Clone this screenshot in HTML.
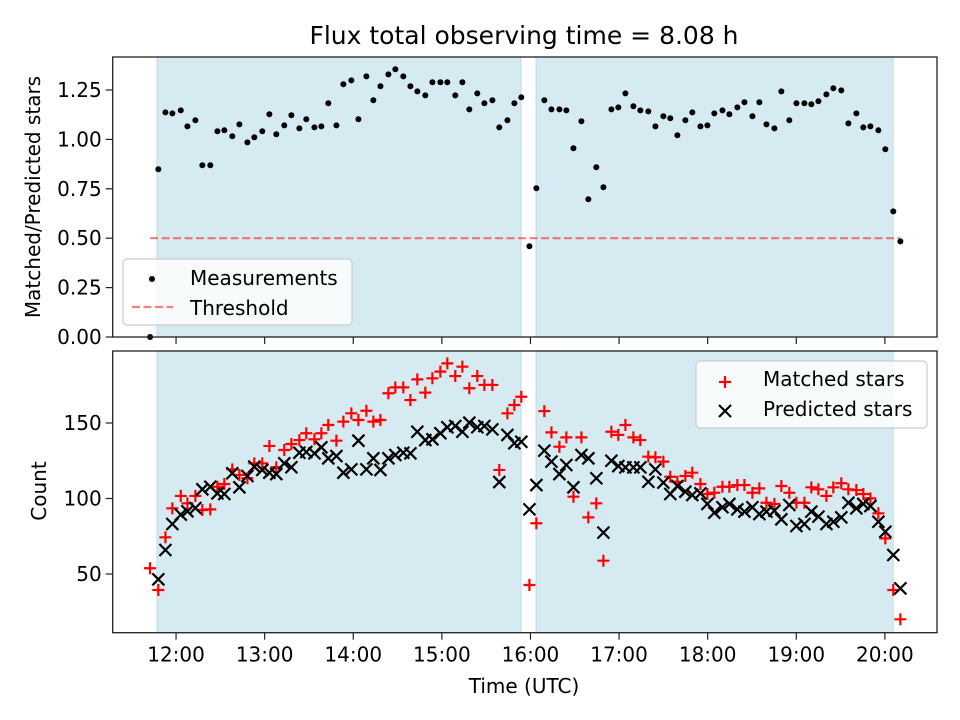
<!DOCTYPE html>
<html><head><meta charset="utf-8"><style>
html,body{margin:0;padding:0;background:#fff}
svg{display:block;font-family:"DejaVu Sans","Liberation Sans",sans-serif}
</style></head><body>
<svg id="chart" width="960" height="720" viewBox="0 0 960 720" xmlns="http://www.w3.org/2000/svg">
<rect x="0" y="0" width="960" height="720" fill="#fff"/>
<text x="524" y="44" font-size="25" text-anchor="middle">Flux total observing time = 8.08 h</text>
<g id="topPanel"></g>
<g id="botPanel"></g>
<text transform="translate(40,197) rotate(-90)" font-size="20" text-anchor="middle">Matched/Predicted stars</text>
<text transform="translate(46,491) rotate(-90)" font-size="20" text-anchor="middle">Count</text>
<text x="524" y="693" font-size="20" text-anchor="middle">Time (UTC)</text>
</svg>
<script>
const times = [-17.6,-12.0,-7.2,-2.5,3.2,7.7,13.1,17.8,23.2,28.0,32.7,38.1,42.9,48.3,53.0,58.4,63.2,67.9,73.3,78.1,83.5,88.2,93.7,98.4,103.1,108.6,113.3,118.7,123.5,128.9,133.6,138.4,143.8,148.5,153.9,158.7,163.4,168.8,173.6,179.0,183.7,189.1,193.9,198.6,204.0,208.8,214.2,218.9,224.4,229.1,233.8,239.3,244.0,
249.4,254.2,259.6,264.3,269.1,274.5,279.2,284.6,289.4,294.8,299.5,304.3,309.7,314.4,319.8,324.6,330.0,334.7,339.5,344.9,349.6,355.1,359.8,364.5,370.0,374.7,380.1,384.9,390.3,395.0,399.8,405.2,409.9,415.3,420.1,425.5,430.2,435.0,440.4,445.1,450.5,455.3,460.7,465.4,470.2,475.6,480.3,485.7,490.5];
const ratio = [0,0.849,1.137,1.132,1.147,1.066,1.097,0.869,0.869,1.041,1.046,1.016,1.076,0.985,1.011,1.041,1.127,1.026,1.071,1.122,1.056,1.102,1.061,1.066,1.183,1.071,1.279,1.299,1.102,1.319,1.198,1.269,1.329,1.355,1.319,1.269,1.243,1.223,1.289,1.289,1.289,1.223,1.289,1.152,1.233,1.183,1.198,1.061,1.097,1.183,1.213,0.459,0.753,
1.198,1.152,1.152,1.147,0.955,1.092,0.697,0.859,0.758,1.152,1.162,1.233,1.168,1.147,1.142,1.066,1.117,1.107,1.021,1.097,1.137,1.066,1.071,1.132,1.147,1.127,1.162,1.188,1.117,1.188,1.076,1.056,1.243,1.097,1.183,1.183,1.178,1.193,1.228,1.259,1.248,1.081,1.132,1.061,1.066,1.046,0.950,0.636,0.484];
const matched = [53.8,39.4,74.3,93.5,101.7,96.8,101.7,92.4,92.8,107.8,109.6,119.3,115.6,113.4,123.3,123.3,134.8,120.7,132.1,136.1,138.7,143.2,139.2,143.2,148.7,138.3,150.9,156.4,152.0,158.1,150.9,152.0,169.7,173.6,173.6,165.2,178.9,170.1,179.6,184.0,189.5,181.1,187.3,173.0,181.1,175.2,175.2,118.9,156.4,161.9,167.4,42.7,83.6,
157.9,143.8,134.3,140.5,101.2,140.5,87.5,96.8,58.8,144.2,142.1,148.7,140.5,138.7,127.7,127.3,124.4,114.4,111.1,114.9,117.1,109.6,103.0,103.8,107.8,107.8,108.9,108.9,103.8,106.7,97.2,96.4,108.3,103.8,97.2,97.2,107.4,106.1,101.7,107.4,110.1,106.1,105.6,103.0,100.1,90.2,73.6,39.4,20.0];
const predicted = [null,46.5,65.9,83.1,89.3,91.5,93.7,106.1,107.8,103.4,103.0,116.7,107.4,114.9,121.1,118.9,117.1,116.2,123.3,120.7,130.3,130.8,129.9,133.9,126.6,128.1,117.1,119.3,138.3,119.3,126.6,118.9,126.6,128.8,130.3,129.9,144.2,138.7,139.2,143.2,147.2,148.0,144.2,150.2,147.2,148.0,145.8,110.9,142.1,136.6,137.6,92.8,108.9,
131.7,124.4,116.2,122.2,107.4,128.8,126.6,113.4,77.4,125.0,121.5,120.6,120.6,120.6,111.1,119.3,110.5,103.0,108.3,104.5,102.3,103.4,96.4,90.6,94.2,96.4,92.8,91.3,94.2,89.7,91.3,91.9,86.2,95.7,81.8,83.1,91.3,88.0,83.1,84.6,87.5,97.2,93.5,96.4,95.0,84.6,78.0,62.6,40.5];
const xTickLabels = ["12:00","13:00","14:00","15:00","16:00","17:00","18:00","19:00","20:00"];
const xTickValues = [0,60,120,180,240,300,360,420,480];
const topTicks = [0,0.25,0.5,0.75,1.0,1.25];
const botTicks = [50,100,150];
const spans = [[-12.9,233.6],[243.8,485.6]];
const threshold = 0.5;

const NS="http://www.w3.org/2000/svg";
const L=112.7,R=937;
const X0=-42.9,X1=515.3;
const x=t=>L+(t-X0)/(X1-X0)*(R-L);
const TT=57,TB=337,BT=351,BB=632.7;
const yTop=v=>TB-v*197.6;
const yBot=v=>649.5-v*1.51;
function el(tag,attrs,parent){const e=document.createElementNS(NS,tag);for(const k in attrs)e.setAttribute(k,attrs[k]);parent.appendChild(e);return e;}
const topG=document.getElementById('topPanel'),botG=document.getElementById('botPanel');

function panel(g,T,B,ticks,yf,fmt,prefix){
  spans.forEach((s,i)=>{
    const r=el('rect',{x:x(s[0]),y:T,width:x(s[1])-x(s[0]),height:B-T,fill:'#d5eaf1',stroke:'#c2e0ea','stroke-width':1.2},g);
    
    
  });
  ticks.forEach(v=>{
    const tk=el('line',{x1:L-7,x2:L,y1:yf(v),y2:yf(v),stroke:'#222','stroke-width':1.2},g);
    
    
    const tx=el('text',{x:L-11,y:yf(v)+7,'font-size':20,'text-anchor':'end'},g);
    tx.textContent=fmt(v);
    
    
  });
  xTickValues.forEach((v,i)=>{
    const tk=el('line',{x1:x(v),x2:x(v),y1:B,y2:B+7,stroke:'#222','stroke-width':1.2},g);
    
    
  });
}
panel(topG,TT,TB,topTicks,yTop,v=>v.toFixed(2),'top');
panel(botG,BT,BB,botTicks,yBot,v=>String(v),'bottom');

const th=el('line',{x1:x(times[0]),x2:x(times[times.length-1]),y1:yTop(threshold),y2:yTop(threshold),stroke:'#ff0000','stroke-opacity':0.5,'stroke-width':2.2,'stroke-dasharray':'8,3.5'},topG);



times.forEach((t,i)=>{
  const c=el('circle',{cx:x(t),cy:yTop(ratio[i]),r:3,fill:'#000'},topG);
  
  
});
function plus(g,cx,cy){return el('path',{d:`M${cx-6},${cy}H${cx+6}M${cx},${cy-6}V${cy+6}`,stroke:'#ff0000','stroke-width':2.2,fill:'none'},g);}
function cross(g,cx,cy){return el('path',{d:`M${cx-6},${cy-6}L${cx+6},${cy+6}M${cx-6},${cy+6}L${cx+6},${cy-6}`,stroke:'#000','stroke-width':2.2,fill:'none'},g);}
times.forEach((t,i)=>{
  const p=plus(botG,x(t),yBot(matched[i]));
  
  
});
times.forEach((t,i)=>{
  if(predicted[i]==null)return;
  const p=cross(botG,x(t),yBot(predicted[i]));
  
  
});
xTickValues.forEach((v,i)=>{
  const tx=el('text',{x:x(v),y:BB+29,'font-size':20,'text-anchor':'middle'},botG);
  tx.textContent=xTickLabels[i];
  
  
});
[[topG,TT,TB],[botG,BT,BB]].forEach(([g,T,B],i)=>{
  const f=el('rect',{x:L,y:T,width:R-L,height:B-T,fill:'none',stroke:'#222','stroke-width':1.3},g);
  
  
});
const lg1=el('g',{},topG);


el('rect',{x:123,y:259,width:229,height:66,rx:4,fill:'#fff','fill-opacity':0.8,stroke:'#ccc','stroke-width':1.2},lg1);
el('circle',{cx:152,cy:279,r:3,fill:'#000'},lg1);
el('line',{x1:132,x2:173,y1:307,y2:307,stroke:'#ff0000','stroke-opacity':0.5,'stroke-width':2.2,'stroke-dasharray':'8,3.5'},lg1);
const t1=el('text',{x:190,y:285,'font-size':20},lg1);t1.textContent='Measurements';


const t2=el('text',{x:190,y:315,'font-size':20},lg1);t2.textContent='Threshold';



const lg2=el('g',{},botG);


el('rect',{x:696,y:361,width:231,height:67,rx:4,fill:'#fff','fill-opacity':0.8,stroke:'#ccc','stroke-width':1.2},lg2);
plus(lg2,725,382);cross(lg2,725,411);
const t3=el('text',{x:763,y:386,'font-size':20},lg2);t3.textContent='Matched stars';


const t4=el('text',{x:763,y:416,'font-size':20},lg2);t4.textContent='Predicted stars';


</script>
</body></html>
